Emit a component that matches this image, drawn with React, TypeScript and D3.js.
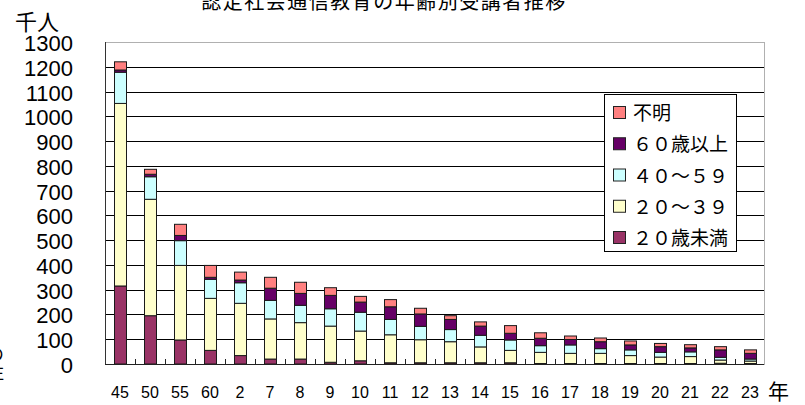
import * as d3 from "d3";

const categories = ["45", "50", "55", "60", "2", "7", "8", "9", "10", "11", "12", "13", "14", "15", "16", "17", "18", "19", "20", "21", "22", "23"];
const under20 = [315, 195, 97, 55, 34, 20, 20, 7, 13, 5, 5, 5, 5, 5, 2, 2, 2, 2, 2, 2, 3, 2];
const age20to39 = [737, 470, 301, 210, 211, 162, 147, 146, 120, 113, 93, 85, 64, 50, 45, 41, 41, 32, 26, 28, 13, 10];
const age40to59 = [126, 91, 100, 77, 83, 75, 70, 70, 76, 62, 54, 49, 47, 42, 27, 34, 19, 23, 19, 19, 11, 8];
const over60 = [9, 10, 21, 8, 11, 49, 48, 54, 41, 51, 50, 41, 37, 27, 30, 22, 28, 20, 23, 16, 30, 23];
const unknown = [33, 20, 45, 48, 32, 44, 45, 31, 23, 29, 23, 15, 17, 31, 22, 14, 15, 16, 13, 13, 13, 14];

const seriesNames = ["２０歳未満", "２０～３９", "４０～５９", "６０歳以上", "不明"];
const seriesColors = ["#993366", "#FFFFCC", "#CCFFFF", "#660066", "#FF8080"];
const yTicks = [0, 100, 200, 300, 400, 500, 600, 700, 800, 900, 1000, 1100, 1200, 1300];

const W = 805;
const H = 405;
const left = 105;
const right = 764;
const top = 42;
const bottom = 364;

export default function App() {
  const rows = categories.map((c, i) => ({
    cat: c,
    s0: under20[i],
    s1: age20to39[i],
    s2: age40to59[i],
    s3: over60[i],
    s4: unknown[i],
  }));
  const keys = ["s0", "s1", "s2", "s3", "s4"];
  const stacked = d3.stack<any>().keys(keys)(rows);

  const x = d3.scaleBand().domain(categories).range([left, right + 1]).paddingInner(0.6).paddingOuter(0.3);
  const y = d3.scaleLinear().domain([0, 1300]).range([bottom, top]);
  const band = d3.scaleBand().domain(categories).range([left, right + 1]);

  const font = "'Liberation Sans', Arial, sans-serif";
  const cjk = "'Noto Sans CJK JP', sans-serif";

  const legendX = 604;
  const legendY = 94;
  const legendRow = d3.scaleLinear().domain([0, 4]).range([legendY + 19, legendY + 144]);

  return (
    <svg width={W} height={H} style={{ position: "absolute", left: 0, top: 0, background: "#fff" }}>
      <text x={384} y={9} textAnchor="middle" fontFamily={cjk} fontSize={20} letterSpacing={1.5} fill="#000">
        認定社会通信教育の年齢別受講者推移
      </text>
      <text x={37} y={30} textAnchor="middle" fontFamily={cjk} fontSize={22} fill="#000">千人</text>
      <text x={-5} y={345} fontFamily={cjk} fontSize={18} fill="#000" style={{ writingMode: "vertical-rl" } as any}>の注</text>

      {/* plot border */}
      <rect x={left} y={top} width={right - left} height={bottom - top} fill="none" stroke="#b0b0b0" strokeWidth={1} shapeRendering="crispEdges" />

      {/* gridlines */}
      {yTicks.filter((t) => t > 0 && t < 1300).map((t) => (
        <line key={t} x1={left} x2={right} y1={Math.round(y(t)) + 0.5} y2={Math.round(y(t)) + 0.5} stroke="#000" strokeWidth={1} />
      ))}

      {/* y labels */}
      {yTicks.map((t) => (
        <text key={t} x={73} y={y(t) + 9} textAnchor="end" fontFamily={font} fontSize={22} fill="#000">{t}</text>
      ))}

      {/* bars */}
      {stacked.map((s, si) => (
        <g key={si}>
          {s.map((d, i) => (
            <rect
              key={i}
              x={Math.round(x(categories[i])!) + 0.5}
              y={y(d[1])}
              width={Math.round(x.bandwidth())}
              height={Math.max(0, y(d[0]) - y(d[1]))}
              fill={seriesColors[si]}
              stroke="#1a1a1a"
              strokeWidth={1}
            />
          ))}
        </g>
      ))}

      {/* axes */}
      <line x1={left + 0.5} x2={left + 0.5} y1={top} y2={bottom} stroke="#333" strokeWidth={1} />
      <line x1={left} x2={right} y1={bottom + 0.5} y2={bottom + 0.5} stroke="#222" strokeWidth={1} />
      {categories.slice(1).map((c) => (
        <line key={c} x1={Math.round(band(c)!) + 0.5} x2={Math.round(band(c)!) + 0.5} y1={bottom - 5} y2={bottom} stroke="#222" strokeWidth={1} />
      ))}
      {categories.map((c) => (
        <text key={c} x={band(c)! + band.bandwidth() / 2} y={398} textAnchor="middle" fontFamily={font} fontSize={16} fill="#000">{c}</text>
      ))}
      <text x={768} y={399} fontFamily={cjk} fontSize={21} fill="#000">年</text>

      {/* legend */}
      <rect x={legendX + 0.5} y={legendY + 0.5} width={132} height={157} fill="#fff" stroke="#000" strokeWidth={1} />
      {seriesNames.map((n, i) => {
        const idx = seriesNames.length - 1 - i;
        const cy = legendRow(i);
        return (
          <g key={n}>
            <rect x={613.5} y={cy - 6.5} width={12} height={12} fill={seriesColors[idx]} stroke="#222" strokeWidth={1} />
            <text x={633} y={cy + 7} fontFamily={cjk} fontSize={19} fill="#000">{seriesNames[idx]}</text>
          </g>
        );
      })}
    </svg>
  );
}
